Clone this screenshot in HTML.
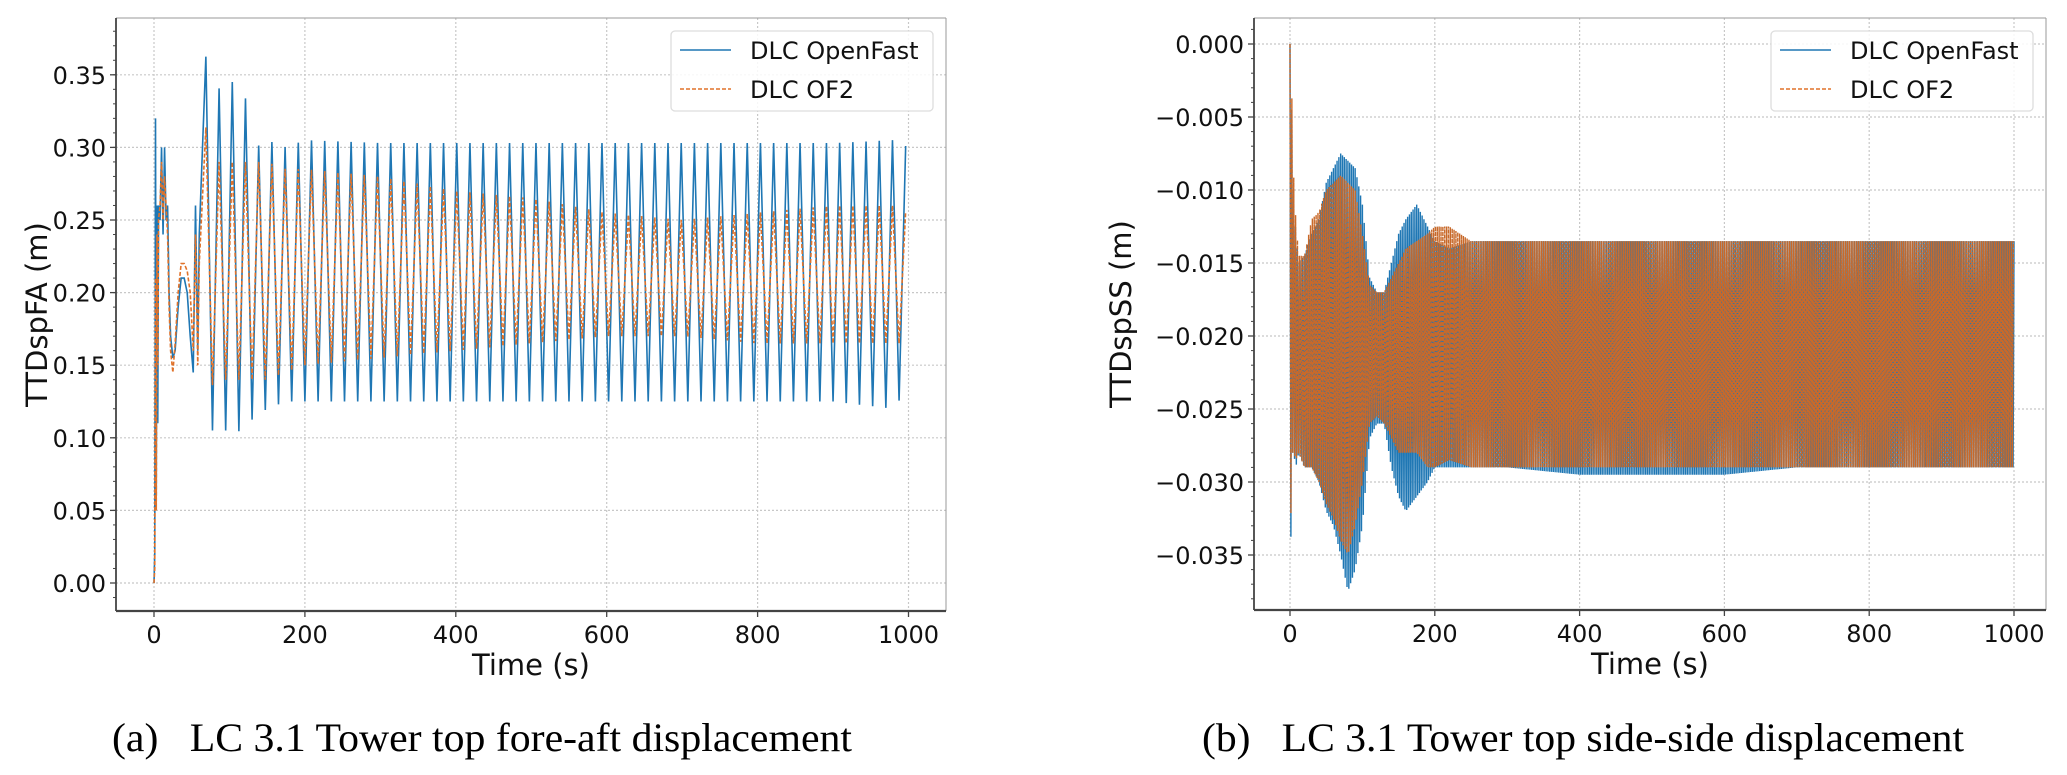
<!DOCTYPE html>
<html><head><meta charset="utf-8"><style>
html,body{margin:0;padding:0;background:#fff;}
svg{display:block;font-family:"DejaVu Sans","Liberation Sans",sans-serif;}
</style></head><body>
<svg id="fig" width="2067" height="775" viewBox="0 0 2067 775" xmlns="http://www.w3.org/2000/svg">
<g id="pa"></g>
<g id="pb"></g>
<text x="112" y="751" font-family="Liberation Serif, serif" font-size="40" textLength="740" lengthAdjust="spacingAndGlyphs">(a)&#160;&#160;&#160;LC 3.1 Tower top fore-aft displacement</text>
<text x="1202" y="751" font-family="Liberation Serif, serif" font-size="40" textLength="762" lengthAdjust="spacingAndGlyphs">(b)&#160;&#160;&#160;LC 3.1 Tower top side-side displacement</text>
</svg>
<script>
// ---- Panel A data (fore-aft) ----
const xTicks = [0,200,400,600,800,1000];
const aTicks = [0,0.05,0.10,0.15,0.20,0.25,0.30,0.35];
const aTickLabels = ["0.00","0.05","0.10","0.15","0.20","0.25","0.30","0.35"];
const aEarlyT = [0,1,2,3,4,5,6,8,10,12,14,16,18,20,22,25,28,32,36,40,44,48,52,55,58,60];
const aEarlyBlue = [0,0.02,0.32,0.06,0.26,0.11,0.26,0.25,0.30,0.24,0.30,0.25,0.26,0.20,0.17,0.155,0.16,0.19,0.21,0.21,0.20,0.17,0.145,0.26,0.16,0.24];
const aEarlyOrange = [0,0.01,0.21,0.05,0.24,0.15,0.25,0.26,0.29,0.25,0.28,0.26,0.24,0.19,0.16,0.145,0.165,0.2,0.22,0.22,0.215,0.2,0.16,0.24,0.15,0.22];
const aEnvT = [60,65,75,85,95,105,115,125,135,150,175,200,300,400,500,600,700,800,900,980,1000];
const aBlueMax = [0.26,0.37,0.35,0.34,0.345,0.345,0.34,0.33,0.30,0.305,0.30,0.305,0.303,0.303,0.303,0.303,0.303,0.303,0.303,0.305,0.30];
const aBlueMin = [0.15,0.105,0.105,0.105,0.105,0.103,0.105,0.11,0.115,0.12,0.125,0.125,0.125,0.125,0.125,0.125,0.125,0.125,0.125,0.12,0.135];
const aOrMax = [0.24,0.325,0.295,0.29,0.29,0.29,0.29,0.29,0.29,0.29,0.285,0.285,0.28,0.27,0.265,0.255,0.25,0.255,0.26,0.26,0.255];
const aOrMin = [0.16,0.12,0.135,0.14,0.14,0.14,0.14,0.14,0.14,0.14,0.145,0.15,0.155,0.16,0.165,0.17,0.17,0.165,0.165,0.165,0.165];
const aPeriod = 17.5;
// ---- Panel B data (side-side) ----
const bTicks = [0,-0.005,-0.010,-0.015,-0.020,-0.025,-0.030,-0.035];
const bTickLabels = ["0.000","\u22120.005","\u22120.010","\u22120.015","\u22120.020","\u22120.025","\u22120.030","\u22120.035"];
const bEnvT = [0,1,2,3,5,8,12,20,30,40,50,60,70,80,90,100,110,120,130,140,150,160,175,190,200,220,250,300,400,500,600,700,800,900,1000];
const bBlueMax = [0,-0.0005,-0.003,-0.006,-0.010,-0.013,-0.015,-0.0145,-0.013,-0.012,-0.0095,-0.0085,-0.0075,-0.008,-0.0085,-0.011,-0.016,-0.017,-0.017,-0.015,-0.013,-0.012,-0.011,-0.0125,-0.0135,-0.014,-0.0135,-0.0135,-0.0135,-0.0135,-0.0135,-0.0135,-0.0135,-0.0135,-0.0135];
const bBlueMin = [-0.036,-0.035,-0.030,-0.028,-0.028,-0.029,-0.028,-0.029,-0.029,-0.030,-0.032,-0.033,-0.035,-0.0375,-0.036,-0.033,-0.027,-0.026,-0.026,-0.029,-0.031,-0.032,-0.031,-0.030,-0.029,-0.029,-0.029,-0.029,-0.0295,-0.0295,-0.0295,-0.029,-0.029,-0.029,-0.029];
const bOrMax = [0,-0.001,-0.002,-0.005,-0.009,-0.012,-0.0145,-0.0145,-0.012,-0.0115,-0.010,-0.0095,-0.009,-0.0095,-0.010,-0.013,-0.0165,-0.017,-0.017,-0.016,-0.015,-0.014,-0.0135,-0.013,-0.0125,-0.0125,-0.0135,-0.0135,-0.0135,-0.0135,-0.0135,-0.0135,-0.0135,-0.0135,-0.0135];
const bOrMin = [-0.036,-0.033,-0.030,-0.028,-0.028,-0.0285,-0.028,-0.029,-0.029,-0.030,-0.0315,-0.0325,-0.034,-0.035,-0.033,-0.030,-0.026,-0.0255,-0.026,-0.027,-0.028,-0.028,-0.028,-0.029,-0.029,-0.0285,-0.029,-0.029,-0.029,-0.029,-0.029,-0.029,-0.029,-0.029,-0.029];
const bPeriod = 2.5;

const NS="http://www.w3.org/2000/svg";
const BLUE="#1f77b4", ORANGE="#e0722a";
function mk(parent,tag,attrs){const e=document.createElementNS(NS,tag);for(const k in attrs)e.setAttribute(k,attrs[k]);parent.appendChild(e);return e;}
function interp(ts,vs,t){if(t<=ts[0])return vs[0];for(let i=1;i<ts.length;i++){if(t<=ts[i]){const f=(t-ts[i-1])/(ts[i]-ts[i-1]);return vs[i-1]+f*(vs[i]-vs[i-1]);}}return vs[vs.length-1];}
function zigzag(ts,maxs,mins,period,t0,t1){const pts=[];let k=0;for(let t=t0;t<=t1;t+=period/2){pts.push([t,k%2===0?interp(ts,maxs,t):interp(ts,mins,t)]);k++;}return pts;}

function axes(g,cfg){
  const {L,R,T,B,xs,ys,yT,yL,minor,ylab}=cfg;
  xTicks.forEach(t=>{const l=mk(g,'line',{x1:xs(t),x2:xs(t),y1:T,y2:B,stroke:'#c8c8c8','stroke-width':1.2,'stroke-dasharray':'2,2'});
    });
  yT.forEach(v=>{const l=mk(g,'line',{x1:L,x2:R,y1:ys(v),y2:ys(v),stroke:'#c8c8c8','stroke-width':1.2,'stroke-dasharray':'2,2'});
    });
  xTicks.forEach(t=>{mk(g,'line',{x1:xs(t),x2:xs(t),y1:B,y2:B+6,stroke:'#444','stroke-width':1.3});
    const tx=mk(g,'text',{x:xs(t),y:B+32,'font-size':24,'text-anchor':'middle',fill:'#111'});tx.textContent=t;
    });
  yT.forEach((v,i)=>{mk(g,'line',{x1:L-6,x2:L,y1:ys(v),y2:ys(v),stroke:'#444','stroke-width':1.3});
    const tx=mk(g,'text',{x:L-10,y:ys(v)+9,'font-size':24,'text-anchor':'end',fill:'#111'});tx.textContent=yL[i];
    });
  minor.forEach(v=>{const y=ys(v);if(y>T&&y<B)mk(g,'line',{x1:L-3,x2:L,y1:y,y2:y,stroke:'#444','stroke-width':1});});
  const xl=mk(g,'text',{x:(L+R)/2,y:B+64,'font-size':29,'text-anchor':'middle',fill:'#111'});xl.textContent='Time (s)';
  
  const cy=(T+B)/2;
  const yl=mk(g,'text',{x:cfg.ylabX,y:cy,'font-size':29,'text-anchor':'middle',fill:'#111',transform:`rotate(-90 ${cfg.ylabX} ${cy})`});yl.textContent=ylab;
  
}
function frame(g,cfg){
  const {L,R,T,B}=cfg;
  mk(g,'line',{x1:L,x2:R,y1:T,y2:T,stroke:'#999','stroke-width':1});
  mk(g,'line',{x1:R,x2:R,y1:T,y2:B,stroke:'#999','stroke-width':1});
  mk(g,'line',{x1:L,x2:L,y1:T,y2:B,stroke:'#444','stroke-width':1.8});
  mk(g,'line',{x1:L,x2:R,y1:B,y2:B,stroke:'#444','stroke-width':2.2});
  const lg=mk(g,'g',{});
  
  
  mk(lg,'rect',{x:cfg.legX,y:cfg.legY,width:262,height:80,rx:4,fill:'#fff','fill-opacity':0.85,stroke:'#ddd','stroke-width':1.3});
  mk(lg,'line',{x1:cfg.legX+9,x2:cfg.legX+60,y1:cfg.legY+19,y2:cfg.legY+19,stroke:BLUE,'stroke-width':1.5});
  mk(lg,'line',{x1:cfg.legX+9,x2:cfg.legX+60,y1:cfg.legY+58,y2:cfg.legY+58,stroke:ORANGE,'stroke-width':1.5,'stroke-dasharray':'4,2'});
  const t1=mk(lg,'text',{x:cfg.legX+79,y:cfg.legY+28,'font-size':24,fill:'#111'});t1.textContent='DLC OpenFast';
  
  const t2=mk(lg,'text',{x:cfg.legX+79,y:cfg.legY+67,'font-size':24,fill:'#111'});t2.textContent='DLC OF2';
  
}
function pathOf(pts,xs,ys){return pts.map((p,i)=>(i?'L':'M')+xs(p[0]).toFixed(2)+' '+ys(p[1]).toFixed(2)).join('');}

// Panel A
const ga=document.getElementById('pa');
const A={L:116,R:946,T:18,B:611,xs:t=>154+t*0.7545,ys:v=>583-v*1452,yT:aTicks,yL:aTickLabels,ylab:'TTDspFA (m)',ylabX:47,legX:671,legY:31,
  minor:Array.from({length:40},(_,i)=>i*0.01-0.01)};
axes(ga,A);
const aBluePts=aEarlyT.map((t,i)=>[t,aEarlyBlue[i]]).concat(zigzag(aEnvT,aBlueMax,aBlueMin,aPeriod,60+aPeriod/2,1000));
const aOrPts=aEarlyT.map((t,i)=>[t,aEarlyOrange[i]]).concat(zigzag(aEnvT,aOrMax,aOrMin,aPeriod,60+aPeriod/2,1000));
const pa1=mk(ga,'path',{d:pathOf(aBluePts,A.xs,A.ys),fill:'none',stroke:BLUE,'stroke-width':1.6});

const pa2=mk(ga,'path',{d:pathOf(aOrPts,A.xs,A.ys),fill:'none',stroke:ORANGE,'stroke-width':1.6,'stroke-dasharray':'4,2'});

frame(ga,A);

// Panel B
const gb=document.getElementById('pb');
const Bc={L:1254,R:2046,T:18,B:610,xs:t=>1290+t*0.724,ys:v=>44-v*14600,yT:bTicks,yL:bTickLabels,ylab:'TTDspSS (m)',ylabX:1131,legX:1771,legY:31,
  minor:Array.from({length:40},(_,i)=>0.001-i*0.001)};
axes(gb,Bc);
const pb1=mk(gb,'path',{d:pathOf(zigzag(bEnvT,bBlueMax,bBlueMin,bPeriod,0,1000),Bc.xs,Bc.ys),fill:'none',stroke:BLUE,'stroke-width':1.4});

const pb2=mk(gb,'path',{d:pathOf(zigzag(bEnvT,bOrMax,bOrMin,bPeriod*1.03,0,1000),Bc.xs,Bc.ys),fill:'none',stroke:'#c8692a','stroke-width':1.4,'stroke-dasharray':'4,1'});

frame(gb,Bc);
</script>
</body></html>
